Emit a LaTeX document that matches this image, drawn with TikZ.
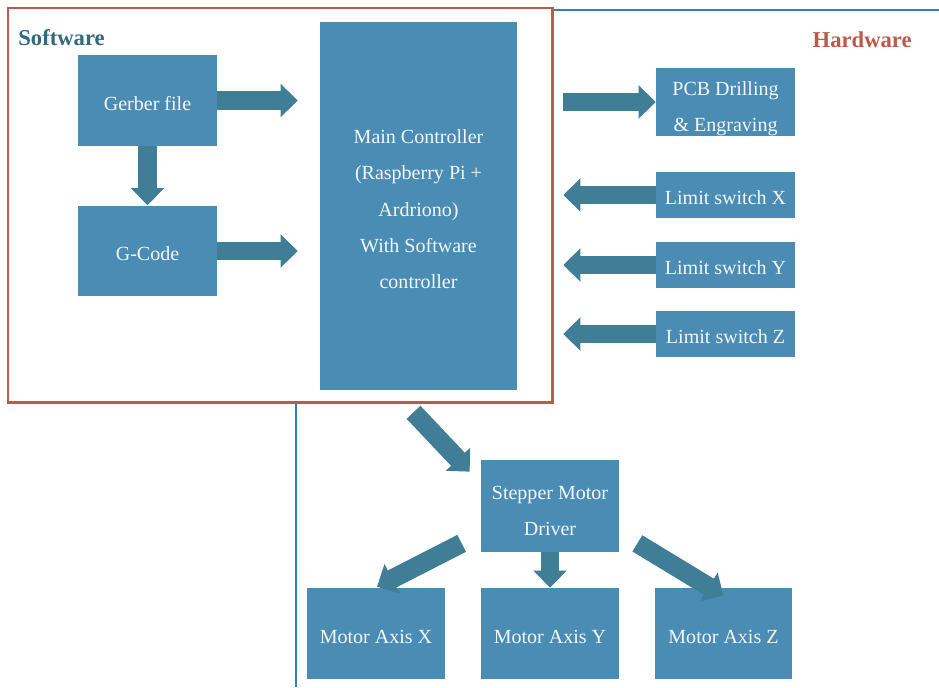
\documentclass[tikz,border=0pt]{standalone}
\usepackage{fontspec}
\setmainfont{Liberation Serif}
\usetikzlibrary{arrows.meta,calc}

\definecolor{boxblue}{RGB}{75,140,180}
\definecolor{arrowblue}{RGB}{64,126,152}
\definecolor{swred}{RGB}{190,88,72}
\definecolor{hwblue}{RGB}{40,130,195}
\definecolor{swtext}{RGB}{50,105,125}

\newcommand\dropline[1]{\rule{0pt}{#1}}

\tikzset{
    textdrop/.style={execute at begin node={\dropline{#1}}},
    textdrop/.default=11.3pt,
    block/.style={fill=boxblue, text=white!94!boxblue, minimum width=2.78cm, minimum height=1.82cm,
        inner sep=0pt, align=center, font=\fontsize{11.4}{20.7}\selectfont},
    oneline/.style={block, textdrop},
    smallblock/.style={oneline, minimum height=0.92cm},
    flow/.style={draw=arrowblue, line width=10.8pt, -{Triangle[width=18.5pt,length=9.7pt]}},
    title/.style={inner sep=0pt, font=\bfseries\fontsize{12.9}{14}\selectfont}
}

\begin{document}
\begin{tikzpicture}[x=0.02cm,y=-0.02cm]
    \useasboundingbox (0,0) rectangle (939,687);
    % frames
    \draw[hwblue, line width=1.3pt] (296,687) -- (296,10) -- (939,10);
    \draw[swred, line width=1.7pt, fill=white] (8,8) rectangle (552,402);
    \node[title, text=swtext, anchor=west] (sw) at (18,38) {Software};
    \node[title, text=swred, anchor=east] (hw) at (912,40) {Hardware};

    \node[oneline] (gerber) at (147.5,100.5) {Gerber file};
    \node[oneline] (gcode) at (147.5,251) {G-Code};
    \node[block, minimum width=3.94cm, minimum height=7.36cm] (main) at (418.5,206)
        {\dropline{11.5pt}Main Controller\\(Raspberry Pi +\\Ardriono)\\With Software\\controller};
    \node[block, minimum height=1.36cm] (pcb) at (725.5,102) {\dropline{15.5pt}PCB Drilling\\\& Engraving};
    \node[smallblock] (limx) at (725.5,195) {Limit switch X};
    \node[smallblock] (limy) at (725.5,265) {Limit switch Y};
    \node[smallblock] (limz) at (725.5,334) {Limit switch Z};
    \node[block, minimum width=2.76cm, minimum height=1.84cm] (driver) at (550,506) {\dropline{13.5pt}Stepper Motor\\Driver};
    \node[oneline, minimum width=2.76cm] (motx) at (376,633.5) {Motor Axis X};
    \node[oneline, minimum width=2.76cm] (moty) at (550,633.5) {Motor Axis Y};
    \node[oneline, minimum width=2.74cm] (motz) at (723.5,633.5) {Motor Axis Z};

    % arrows
    \draw[flow, shorten >=0.44cm] (gerber.east) -- (gerber -| main.west);
    \draw[flow] (gerber.south) -- (gcode.north);
    \draw[flow, shorten >=0.44cm] (gcode.east) -- (gcode -| main.west);
    \draw[flow, shorten <=0.92cm] (main.east |- pcb) -- (pcb.west);
    \draw[flow, shorten >=0.92cm] (limx.west) -- (limx -| main.east);
    \draw[flow, shorten >=0.92cm] (limy.west) -- (limy -| main.east);
    \draw[flow, shorten >=0.92cm] (limz.west) -- (limz -| main.east);
    \draw[flow] ([shift={(-5,22)}]main.south) -- ([shift={(-11,12)}]driver.north west);
    \draw[flow] ([shift={(-19,-9)}]driver.south west) -- ([shift={(1,-1)}]motx.north);
    \draw[flow] (driver.south) -- (moty.north);
    \draw[flow] ([shift={(18,-9)}]driver.south east) -- ([shift={(0,8)}]motz.north);
\end{tikzpicture}
\end{document}
